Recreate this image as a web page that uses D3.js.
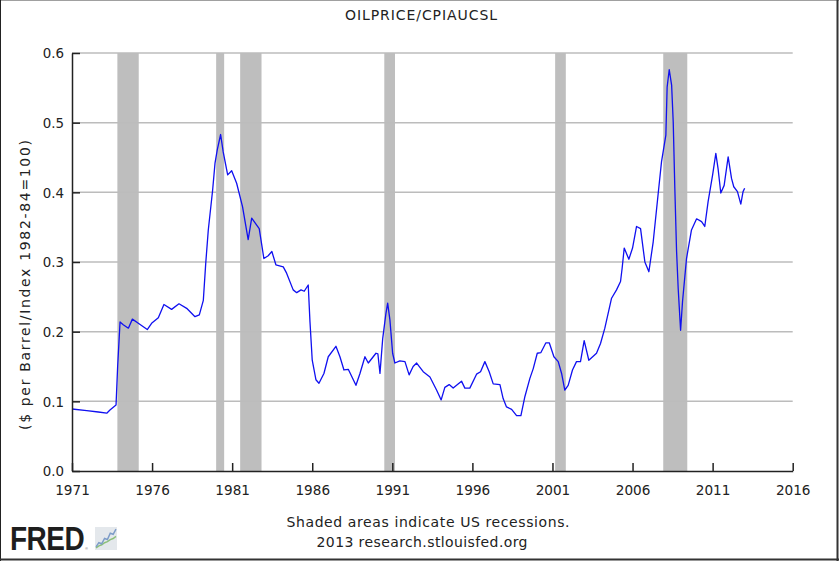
<!DOCTYPE html>
<html>
<head>
<meta charset="utf-8">
<script src="https://cdn.jsdelivr.net/npm/d3@7"></script>
<style>
  body { margin: 0; background: #fff; }
  svg { display: block; }
</style>
</head>
<body>
<div id="chart"></div>
<script>
// chart size
const width = 839;
const height = 561;
const margin = {top: 53, right: 46, bottom: 90, left: 72};

// data (decimal year, ratio)
const obsYears = [
  1971.0, 1971.92, 1972.64, 1973.17, 1973.37, 1973.75, 1973.85, 1974.0, 1974.2, 1974.52,
  1974.77, 1975.14, 1975.7, 1975.97, 1976.39, 1976.74, 1977.22, 1977.68, 1978.16, 1978.68,
  1978.95, 1979.2, 1979.35, 1979.51, 1979.78, 1979.93, 1980.07, 1980.28, 1980.44, 1980.72,
  1980.97, 1981.28, 1981.65, 1982.0, 1982.22, 1982.69, 1982.98, 1983.25, 1983.48, 1983.73,
  1984.19, 1984.4, 1984.81, 1985.03, 1985.3, 1985.5, 1985.75, 1985.86, 1986.0, 1986.23,
  1986.42, 1986.73, 1987.0, 1987.48, 1987.73, 1987.98, 1988.25, 1988.73, 1988.98, 1989.29,
  1989.5, 1989.98, 1990.1, 1990.23, 1990.4, 1990.6, 1990.71, 1990.85, 1991.02, 1991.16,
  1991.47, 1991.79, 1992.05, 1992.3, 1992.52, 1992.93, 1993.35, 1993.77, 1994.05, 1994.28,
  1994.55, 1994.8, 1995.32, 1995.53, 1995.84, 1996.26, 1996.51, 1996.78, 1997.05, 1997.3,
  1997.72, 1997.92, 1998.13, 1998.45, 1998.76, 1999.03, 1999.28, 1999.59, 1999.8, 2000.05,
  2000.28, 2000.59, 2000.8, 2001.09, 2001.36, 2001.57, 2001.77, 2001.98, 2002.25, 2002.5,
  2002.75, 2002.98, 2003.27, 2003.75, 2004.0, 2004.27, 2004.69, 2005.0, 2005.25, 2005.35,
  2005.48, 2005.77, 2006.0, 2006.25, 2006.5, 2006.77, 2007.02, 2007.29, 2007.6, 2007.81,
  2008.08, 2008.16, 2008.29, 2008.44, 2008.54, 2008.64, 2008.75, 2008.85, 2009.0, 2009.12,
  2009.37, 2009.68, 2010.0, 2010.31, 2010.51, 2010.72, 2011.0, 2011.2, 2011.34, 2011.51,
  2011.72, 2011.97, 2012.18, 2012.32, 2012.55, 2012.76, 2012.9, 2013.0
];
const obsValues = [
  0.089, 0.0866, 0.0847, 0.083, 0.0876, 0.0947, 0.15, 0.214, 0.21, 0.205,
  0.218, 0.212, 0.203, 0.212, 0.22, 0.239, 0.232, 0.240, 0.2335, 0.2215,
  0.224, 0.245, 0.298, 0.346, 0.403, 0.442, 0.461, 0.483, 0.458, 0.425,
  0.431, 0.413, 0.379, 0.332, 0.363, 0.348, 0.305, 0.309, 0.315, 0.296,
  0.293, 0.284, 0.26, 0.256, 0.26, 0.258, 0.267, 0.214, 0.159, 0.131,
  0.126, 0.14, 0.164, 0.179, 0.164, 0.145, 0.146, 0.123, 0.14, 0.164,
  0.155, 0.169, 0.168, 0.14, 0.19, 0.226, 0.241, 0.217, 0.169, 0.155,
  0.158, 0.157, 0.138, 0.15, 0.155, 0.1425, 0.135, 0.116, 0.102, 0.12,
  0.124, 0.119, 0.129, 0.119, 0.119, 0.139, 0.1425, 0.157, 0.1425, 0.125,
  0.124, 0.104, 0.092, 0.0885, 0.0794, 0.0794, 0.107, 0.133, 0.147, 0.169,
  0.17, 0.184, 0.184, 0.164, 0.157, 0.14, 0.116, 0.123, 0.145, 0.157,
  0.157, 0.187, 0.159, 0.169, 0.183, 0.205, 0.248, 0.26, 0.272, 0.291,
  0.32, 0.304, 0.32, 0.351, 0.348, 0.3, 0.286, 0.329, 0.398, 0.444,
  0.482, 0.551, 0.576, 0.554, 0.501, 0.406, 0.315, 0.262, 0.202, 0.243,
  0.305, 0.346, 0.362, 0.358, 0.351, 0.387, 0.425, 0.456, 0.434, 0.399,
  0.41, 0.451, 0.42, 0.408, 0.401, 0.383, 0.401, 0.406
];

// US recessions (start / end, decimal years)
const recStart = [1973.833, 1980.0, 1981.5, 1990.5, 2001.167, 2007.917];
const recEnd   = [1975.167, 1980.5, 1982.833, 1991.167, 2001.833, 2009.417];

// tick labels
const xTicks = [1971, 1976, 1981, 1986, 1991, 1996, 2001, 2006, 2011, 2016];
const yTicks = [0.0, 0.1, 0.2, 0.3, 0.4, 0.5, 0.6];

// small FRED icon lines
const iconBlue  = [0.1, 0.3, 0.25, 0.5, 0.45, 0.75, 0.7, 0.95];
const iconGreen = [0.05, 0.15, 0.2, 0.3, 0.35, 0.45, 0.5, 0.6];

const font = "'DejaVu Sans', Verdana, sans-serif";
const ink = "#222";

const svg = d3.select("#chart")
  .append("svg")
  .attr("width", width)
  .attr("height", height)
  .style("font-family", font);

// frame
svg.append("rect")
  .attr("width", width).attr("height", height)
  .attr("fill", "#fff");
svg.append("line").attr("x1", 0).attr("x2", width).attr("y1", 0.5).attr("y2", 0.5)
  .attr("stroke", "#a0a0a0");
svg.append("line").attr("x1", 0.5).attr("x2", 0.5).attr("y1", 0).attr("y2", height)
  .attr("stroke", "#222");
svg.append("line").attr("x1", width - 1.5).attr("x2", width - 1.5).attr("y1", 0).attr("y2", height)
  .attr("stroke", "#333").attr("stroke-width", 2);
svg.append("line").attr("x1", 0).attr("x2", width).attr("y1", height - 1.5).attr("y2", height - 1.5)
  .attr("stroke", "#333").attr("stroke-width", 2);

const x = d3.scaleLinear()
  .domain([1971, 2016])
  .range([margin.left, width - margin.right - 0.3]);

const y = d3.scaleLinear()
  .domain([0, 0.6])
  .range([height - margin.bottom, margin.top]);

// recession bars
svg.append("g")
  .selectAll("rect")
  .data(d3.range(recStart.length))
  .join("rect")
    .attr("x", (i) => x(recStart[i]))
    .attr("width", (i) => x(recEnd[i]) - x(recStart[i]))
    .attr("y", y(0.6))
    .attr("height", y(0) - y(0.6))
    .attr("fill", "#bebebe");

// horizontal gridlines
svg.append("g")
  .selectAll("line")
  .data(yTicks.slice(1))
  .join("line")
    .attr("x1", x(1971))
    .attr("x2", x(2016))
    .attr("y1", (d) => y(d))
    .attr("y2", (d) => y(d))
    .attr("stroke", "#bcbcbc")
    .attr("stroke-width", 1.5);

// data line
const series = obsYears.map((yr, i) => ({yr, v: obsValues[i]}));
const line = d3.line()
  .x((d) => x(d.yr))
  .y((d) => y(d.v));

svg.append("path")
  .datum(series)
  .attr("fill", "none")
  .attr("stroke", "#1010f0")
  .attr("stroke-width", 1.3)
  .attr("stroke-linejoin", "round")
  .attr("d", line);

// x axis (ticks pointing up into the plot)
const xAxis = svg.append("g")
  .attr("transform", `translate(0,${y(0)})`)
  .call(d3.axisBottom(x)
    .tickValues(xTicks)
    .tickFormat(d3.format("d"))
    .tickSizeInner(-8)
    .tickSizeOuter(0)
    .tickPadding(0));
xAxis.select(".domain").attr("stroke", ink).attr("stroke-width", 1.5);
xAxis.selectAll(".tick line").attr("stroke", ink).attr("stroke-width", 1.5);
xAxis.selectAll(".tick text")
  .attr("y", 24)
  .attr("dy", 0)
  .attr("fill", ink)
  .style("font-size", "13.6px")
  .style("font-family", font);

// y axis (ticks pointing right into the plot)
const yAxis = svg.append("g")
  .attr("transform", `translate(${x(1971)},0)`)
  .call(d3.axisLeft(y)
    .tickValues(yTicks)
    .tickFormat(d3.format(".1f"))
    .tickSizeInner(-8)
    .tickSizeOuter(0)
    .tickPadding(0));
yAxis.select(".domain").attr("stroke", ink).attr("stroke-width", 1.5);
yAxis.selectAll(".tick text")
  .attr("x", -8)
  .attr("dy", "0.36em")
  .attr("fill", ink)
  .style("font-size", "13.4px")
  .style("font-family", font);
yAxis.selectAll(".tick line").attr("stroke", ink).attr("stroke-width", 1.5);

// title
svg.append("text")
  .attr("x", 421)
  .attr("y", 20)
  .attr("text-anchor", "middle")
  .attr("fill", ink)
  .attr("textLength", 152)
  .attr("lengthAdjust", "spacing")
  .style("font-size", "14px")
  .text("OILPRICE/CPIAUCSL");

// y axis label
svg.append("text")
  .attr("transform", "translate(30,285) rotate(-90)")
  .attr("text-anchor", "middle")
  .attr("fill", ink)
  .attr("textLength", 290)
  .attr("lengthAdjust", "spacing")
  .style("font-size", "14px")
  .text("($ per Barrel/Index 1982-84=100)");

// footer
svg.append("text")
  .attr("x", 428)
  .attr("y", 527)
  .attr("text-anchor", "middle")
  .attr("fill", ink)
  .attr("textLength", 283)
  .attr("lengthAdjust", "spacing")
  .style("font-size", "14px")
  .text("Shaded areas indicate US recessions.");
svg.append("text")
  .attr("x", 422)
  .attr("y", 547)
  .attr("text-anchor", "middle")
  .attr("fill", ink)
  .attr("textLength", 211)
  .attr("lengthAdjust", "spacing")
  .style("font-size", "14px")
  .text("2013 research.stlouisfed.org");

// FRED logo: natural width ~77px, stretched vertically to the logo's height
const logo = svg.append("text")
  .attr("transform", "translate(10,550) scale(1,1.2)")
  .attr("fill", "#1e1e1e")
  .style("font-family", "'Liberation Sans', Arial, sans-serif")
  .style("font-weight", "bold")
  .style("letter-spacing", "-0.5px");
logo.append("tspan")
  .style("font-size", "28px")
  .text("FRED");
logo.append("tspan")
  .attr("dx", 1)
  .style("font-size", "3.5px")
  .style("font-weight", "normal")
  .attr("fill", "#555")
  .text("®");

const icon = svg.append("g").attr("transform", "translate(95,527)");
icon.append("rect")
  .attr("width", 22).attr("height", 23)
  .attr("fill", "#e4e8ec");
const ix = d3.scaleLinear().domain([0, iconBlue.length - 1]).range([1, 21]);
const iy = d3.scaleLinear().domain([0, 1]).range([22, 1]);
const iconLine = d3.line().x((d, i) => ix(i)).y((d) => iy(d));
icon.append("path").attr("d", iconLine(iconGreen))
  .attr("fill", "none").attr("stroke", "#8cc07a").attr("stroke-width", 1.5);
icon.append("path").attr("d", iconLine(iconBlue))
  .attr("fill", "none").attr("stroke", "#7d9cc8").attr("stroke-width", 1.5);
</script>
</body>
</html>
